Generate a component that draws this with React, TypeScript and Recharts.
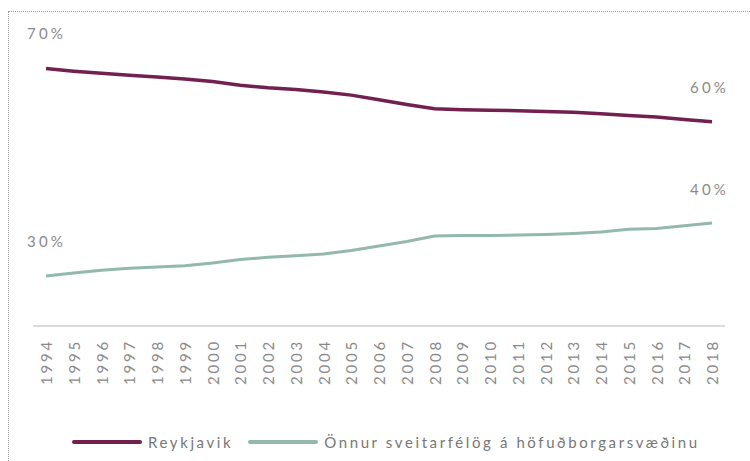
import { LineChart, Line, XAxis, YAxis } from "recharts";

const years = [
  "1994", "1995", "1996", "1997", "1998", "1999", "2000", "2001", "2002",
  "2003", "2004", "2005", "2006", "2007", "2008", "2009", "2010", "2011",
  "2012", "2013", "2014", "2015", "2016", "2017", "2018",
];

const reykjavik = [
  69.5, 69.0, 68.6, 68.2, 67.9, 67.5, 67.0, 66.3, 65.8, 65.5, 65.0, 64.4,
  63.5, 62.6, 61.8, 61.6, 61.5, 61.4, 61.25, 61.1, 60.8, 60.5, 60.2, 59.7, 59.3,
];

const nagrenni = [
  29.6, 30.2, 30.7, 31.1, 31.35, 31.6, 32.1, 32.8, 33.2, 33.5, 33.85, 34.5,
  35.4, 36.25, 37.3, 37.4, 37.4, 37.5, 37.6, 37.8, 38.1, 38.6, 38.75, 39.3, 39.8,
];

const seriesNames = ["Reykjavik", "Önnur sveitarfélög á höfuðborgarsvæðinu"];
const seriesColors = ["#72204f", "#93b8ac"];

// annotation text placed beside the lines
const annotations = [
  { text: "70%", left: 27, top: 24 },
  { text: "30%", left: 27, top: 232 },
  { text: "60%", left: 690, top: 78 },
  { text: "40%", left: 690, top: 180 },
];

const FONT = "Lato, 'Open Sans', sans-serif";
const TEXT_GRAY = "#8a8a8a";

const data = years.map((year, i) => ({
  year,
  reykjavik: reykjavik[i],
  nagrenni: nagrenni[i],
}));

const YearTick = ({ x, y, payload }: { x?: number; y?: number; payload?: { value: string } }) => (
  <text
    transform={`translate(${x},${(y ?? 0) + 5}) rotate(-90)`}
    textAnchor="end"
    dominantBaseline="central"
    fontFamily={FONT}
    fontSize={15}
    letterSpacing={2.8}
    fill={TEXT_GRAY}
  >
    {payload?.value}
  </text>
);

export default function App() {
  return (
    <div style={{ position: "relative", width: 750, height: 461, overflow: "hidden" }}>
      <style>{`body{margin:0;overflow:hidden;background:#fff}`}</style>
      <div
        style={{
          position: "absolute",
          left: 8,
          top: 11,
          width: 760,
          height: 470,
          border: "1px dotted #9a9a9a",
        }}
      />
      <div style={{ position: "absolute", left: 0, top: 0 }}>
        <LineChart
          width={750}
          height={461}
          data={data}
          margin={{ top: 14, right: 25, bottom: 75, left: 33 }}
        >
          <XAxis
            dataKey="year"
            interval={0}
            height={60}
            padding={{ left: 13, right: 13 }}
            tickLine={false}
            stroke="#dcdcdc"
            strokeWidth={2}
            tick={<YearTick />}
          />
          <YAxis hide domain={[20, 80]} />
          <Line
            dataKey="reykjavik"
            stroke={seriesColors[0]}
            strokeWidth={3.5}
            dot={false}
            isAnimationActive={false}
          />
          <Line
            dataKey="nagrenni"
            stroke={seriesColors[1]}
            strokeWidth={3}
            dot={false}
            isAnimationActive={false}
          />
        </LineChart>
      </div>
      {annotations.map((a) => (
        <div
          key={a.text}
          style={{
            position: "absolute",
            left: a.left,
            top: a.top,
            fontFamily: FONT,
            fontSize: 15,
            letterSpacing: 3.2,
            color: TEXT_GRAY,
            lineHeight: "18px",
          }}
        >
          {a.text}
        </div>
      ))}
      <div
        style={{
          position: "absolute",
          left: 72,
          top: 433,
          display: "flex",
          alignItems: "center",
          fontFamily: FONT,
          fontSize: 15,
          letterSpacing: 2.6,
          color: "#777",
        }}
      >
        {seriesNames.map((name, i) => (
          <div key={name} style={{ display: "flex", alignItems: "center", marginRight: 15 }}>
            <span
              style={{
                display: "inline-block",
                width: 70,
                height: 4,
                borderRadius: 2,
                background: seriesColors[i],
                marginRight: 6,
              }}
            />
            <span>{name}</span>
          </div>
        ))}
      </div>
    </div>
  );
}
